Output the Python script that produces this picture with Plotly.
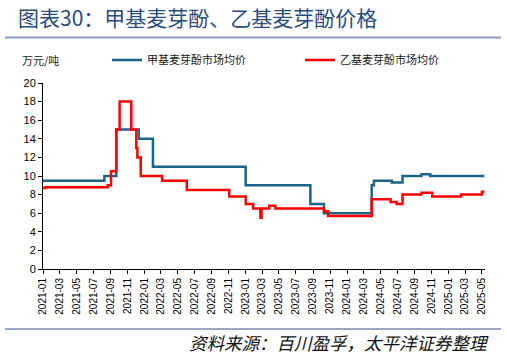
import plotly.graph_objects as go

blue_dates = ["2021-01-01", "2021-08-10", "2021-09-22", "2021-12-12", "2022-02-01",
              "2023-01-01", "2023-08-22", "2023-10-10", "2024-03-30", "2024-04-07",
              "2024-06-10", "2024-07-19", "2024-09-25", "2024-10-27", "2025-05-10"]
blue_vals = [9.5, 10.0, 15.0, 14.0, 11.0, 9.0, 7.0, 6.0, 9.0, 9.5, 9.3, 10.0, 10.2, 10.0, 10.0]

red_dates = ["2021-01-01", "2021-01-10", "2021-08-22", "2021-09-03", "2021-09-22",
             "2021-10-04", "2021-11-15", "2021-12-03", "2021-12-07", "2021-12-19",
             "2022-03-06", "2022-06-03", "2022-11-03", "2023-01-01", "2023-01-28",
             "2023-02-23", "2023-02-27", "2023-03-27", "2023-04-18", "2023-10-10",
             "2023-10-25", "2024-03-30", "2024-06-06", "2024-06-28", "2024-07-19",
             "2024-09-25", "2024-11-03", "2025-02-15", "2025-05-01", "2025-05-10"]
red_vals = [8.7, 8.8, 9.0, 10.5, 15.0, 18.0, 15.0, 13.0, 12.0, 10.0,
            9.5, 8.5, 7.8, 7.0, 6.5, 5.5, 6.5, 6.8, 6.5, 6.2,
            5.7, 7.5, 7.2, 7.0, 8.0, 8.2, 7.8, 8.0, 8.3, 8.3]

name_blue = "甲基麦芽酚市场均价"
name_red = "乙基麦芽酚市场均价"
title_text = "图表30：甲基麦芽酚、乙基麦芽酚价格"
unit_text = "万元/吨"
source_text = "资料来源：百川盈孚，太平洋证券整理"

W, H = 507, 356
ML, MR, MT, MB = 43, 22, 83, 87
PW, PH = W - ML - MR, H - MT - MB
cjk = "Noto Sans CJK SC"


def px(x):
    return (x - ML) / PW


def py(y):
    return (H - MB - y) / PH


fig = go.Figure()
fig.add_trace(go.Scatter(x=blue_dates, y=blue_vals, mode="lines", name=name_blue,
                         line=dict(color="#1C6587", width=2.5, shape="hv"), legend="legend"))
fig.add_trace(go.Scatter(x=red_dates, y=red_vals, mode="lines", name=name_red,
                         line=dict(color="#FF0000", width=2.5, shape="hv"), legend="legend2"))

fig.update_layout(
    width=W, height=H,
    margin=dict(l=ML, r=MR, t=MT, b=MB, autoexpand=False),
    paper_bgcolor="white", plot_bgcolor="white",
    font=dict(family="Liberation Sans, Arial", color="#000000"),
    legend=dict(x=px(107), y=py(60), xanchor="left", yanchor="middle", orientation="h",
                font=dict(family=cjk, size=11, color="#222"), itemwidth=30,
                bgcolor="rgba(0,0,0,0)"),
    legend2=dict(x=px(300), y=py(60), xanchor="left", yanchor="middle", orientation="h",
                 font=dict(family=cjk, size=11, color="#222"), itemwidth=30,
                 bgcolor="rgba(0,0,0,0)"),
    showlegend=True,
)

fig.update_xaxes(
    type="date", range=["2021-01-01", "2025-05-12"],
    tick0="2021-01-01", dtick="M2", tickformat="%Y-%m", tickangle=-90,
    ticks="outside", ticklen=4, tickcolor="#000", showline=True, linecolor="#000",
    linewidth=1, showgrid=False, zeroline=False,
    tickfont=dict(family="Liberation Sans, Arial", size=10, color="#000"),
)
fig.update_yaxes(
    range=[0, 20], dtick=2, ticks="outside", ticklen=4, tickcolor="#000",
    showline=True, linecolor="#000", linewidth=1, showgrid=False, zeroline=False,
    tickfont=dict(family="Liberation Sans, Arial", size=11, color="#000"),
)

# Title and decorative lines
fig.add_annotation(text=title_text, xref="paper", yref="paper",
                   x=px(16), y=py(17), xanchor="left", yanchor="middle",
                   showarrow=False, font=dict(family=cjk, size=21, color="#2B4C7E"))
fig.add_shape(type="line", xref="paper", yref="paper",
              x0=px(5), x1=px(501), y0=py(37.5), y1=py(37.5),
              line=dict(color="#8E98BE", width=2))
fig.add_annotation(text=unit_text, xref="paper", yref="paper",
                   x=px(20), y=py(60), xanchor="left", yanchor="middle",
                   showarrow=False, font=dict(family=cjk, size=11, color="#222"))
fig.add_shape(type="line", xref="paper", yref="paper",
              x0=px(5), x1=px(501), y0=py(329), y1=py(329),
              line=dict(color="#7F88B0", width=1.5))
fig.add_annotation(text="<i>" + source_text + "</i>", xref="paper", yref="paper",
                   x=px(491), y=py(342), xanchor="right", yanchor="middle",
                   showarrow=False, font=dict(family=cjk, size=17.5, color="#111"))

fig.write_html("out.html", config={"displayModeBar": False},
               post_script="document.body.style.margin='0';document.body.style.overflow='hidden';")
